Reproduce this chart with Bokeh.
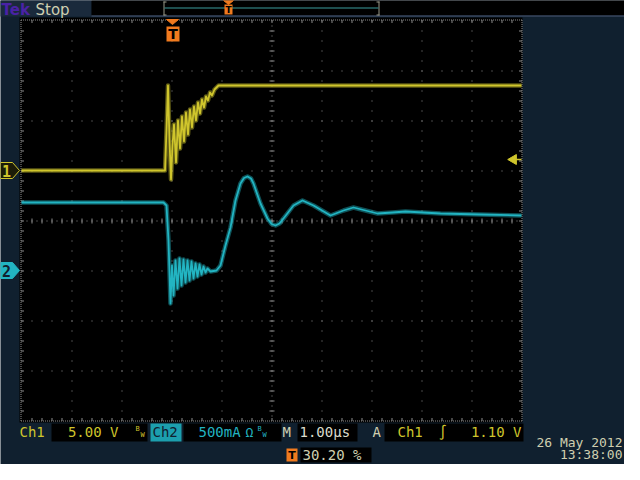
import numpy as np
from bokeh.plotting import figure
from bokeh.models import Range1d, Label
from bokeh.embed import file_html
from bokeh.resources import INLINE

time_per_div_us = 1.0
trigger_position_pct = 30.20
ch1_volts_per_div = 5.0
ch2_ma_per_div = 500.0
ch1_offset_div = 1.0
ch2_offset_div = -1.0
trigger_level_v = 1.10

ch1_t_us = [-3.02, -0.15, -0.12, -0.09, -0.06, -0.03, 0.00, 0.03, 0.07, 0.11,
            0.15, 0.19, 0.23, 0.27, 0.31, 0.35, 0.39, 0.43, 0.47, 0.51,
            0.55, 0.59, 0.63, 0.67, 0.71, 0.75, 0.79, 0.84, 0.92, 6.98]
ch1_v = [0.0, 0.0, 4.0, 8.5, 3.0, -0.9, 2.5, 4.6, 0.8, 5.0,
         2.2, 5.4, 2.9, 5.8, 3.6, 6.1, 4.3, 6.4, 5.0, 6.8,
         5.7, 7.1, 6.3, 7.4, 7.0, 7.8, 7.5, 8.1, 8.5, 8.5]

ch2_t_us = [-3.02, -0.18, -0.12, -0.08, -0.04, -0.01, 0.02, 0.06, 0.10, 0.14,
            0.18, 0.22, 0.26, 0.30, 0.34, 0.38, 0.42, 0.46, 0.50, 0.54,
            0.58, 0.62, 0.66, 0.70, 0.76, 0.88, 0.96, 1.06, 1.16, 1.26,
            1.36, 1.43, 1.50, 1.57, 1.62, 1.76, 1.90, 1.98, 2.06, 2.14,
            2.22, 2.42, 2.60, 2.82, 3.16, 3.42, 3.62, 3.86, 4.10, 4.40,
            4.66, 5.36, 6.16, 6.98]
ch2_ma = [680, 680, 650, 300, -330, 50, -250, 100, -180, 120,
          -150, 110, -120, 100, -100, 90, -80, 70, -60, 60,
          -40, 40, -20, 20, -10, 0, 50, 250, 430, 700,
          870, 925, 940, 920, 870, 670, 520, 465, 450, 470,
          520, 650, 700, 650, 550, 600, 630, 600, 570, 580,
          590, 570, 560, 550]

ch1_scale_text = "5.00 V"
ch2_scale_text = "500mA"
time_scale_text = "1.00\u00b5s"
trigger_text = "1.10 V"
trigger_pos_text = "30.20 %"
date_text = "26 May 2012"
time_text = "13:38:00"

# ---------------- styling / geometry (screen pixels) ----------------
NAVY = "#10202f"
NAVY2 = "#1a2a3c"
GRID = "#8c8c8c"
YEL = "#cfc52c"
CYA = "#22b4c2"
ORANGE = "#f07a1e"
PALE = "#cfcfb0"
MONO = "DejaVu Sans Mono"

W, H = 624, 464
OFF = 1                 # screen pixel of the figure's top-left corner
FX0, FY0 = 22, 21       # graticule origin (left, top)
DIV = 50.0
NX, NY = 10, 8

x_start = -trigger_position_pct / 100.0 * NX * time_per_div_us


def X(px):
    return x_start + (px - FX0) / DIV * time_per_div_us


def Y(py):
    return NY / 2 - (py - FY0) / DIV


p = figure(width=W, height=H, output_backend="svg", toolbar_location=None,
           x_range=Range1d(X(OFF), X(OFF + W)), y_range=Range1d(Y(OFF + H), Y(OFF)),
           x_axis_type=None, y_axis_type=None, min_border=0,
           background_fill_color=NAVY, border_fill_color=NAVY,
           outline_line_color=None)
p.title.visible = False

ylo, yhi = Y(OFF + H), Y(OFF)
p.extra_y_ranges = {
    "ch1": Range1d((ylo - ch1_offset_div) * ch1_volts_per_div,
                   (yhi - ch1_offset_div) * ch1_volts_per_div),
    "ch2": Range1d((ylo - ch2_offset_div) * ch2_ma_per_div,
                   (yhi - ch2_offset_div) * ch2_ma_per_div),
}


def box(l, t, r, b, color):
    p.quad(left=[X(l)], right=[X(r)], top=[Y(t)], bottom=[Y(b)],
           fill_color=color, line_color=None)


def seg(x0, y0, x1, y1, color, dash="solid", width=1):
    p.segment(x0=[X(a) for a in x0], y0=[Y(a) for a in y0],
              x1=[X(a) for a in x1], y1=[Y(a) for a in y1],
              line_color=color, line_dash=dash, line_width=width)


def poly(pts, fill, line=None):
    p.patch([X(a) for a, _ in pts], [Y(b) for _, b in pts],
            fill_color=fill, line_color=line if line else fill, line_width=1)


def txt(px, py, s, color, size=14, align="left", font=MONO, style="normal"):
    # py is the wanted baseline; the renderer places text ~0.36em lower
    p.add_layout(Label(x=X(px), y=Y(py - 0.36 * size), text=s, text_color=color,
                       text_font_size=f"{size}px", text_align=align,
                       text_baseline="alphabetic", text_font=font,
                       text_font_style=style))


# ---- screen area ----
box(20, 18, 523, 423, "black")

# ---- graticule ----
gx = [FX0 + DIV * k + 0.5 for k in range(NX + 1)]
gy = [FY0 + DIV * k + 0.5 for k in range(NY + 1)]
cx, cy = gx[NX // 2], gy[NY // 2]
inner_x = [v for i, v in enumerate(gx) if 0 < i < NX and i != NX // 2]
inner_y = [v for i, v in enumerate(gy) if 0 < i < NY and i != NY // 2]
top, bot = FY0 - 0.5, FY0 + NY * DIV + 0.5
left, right = FX0 - 0.5, FX0 + NX * DIV + 0.5
seg(inner_x, [FY0] * len(inner_x), inner_x, [FY0 + NY * DIV] * len(inner_x), GRID, "1 9")
seg([FX0] * len(inner_y), inner_y, [FX0 + NX * DIV] * len(inner_y), inner_y, GRID, "1 9")
seg([cx], [FY0], [cx], [FY0 + NY * DIV], GRID, "1 4")
seg([FX0], [cy], [FX0 + NX * DIV], [cy], GRID, "1 4")
# border
seg([left, right, left, left], [top, top, top, bot], [left, right, right, right],
    [bot, bot, top, bot], GRID, "1 1")
# minor ticks (every 1/5 division) on the border and the centre lines
mx = [FX0 + DIV / 5 * k + 0.5 for k in range(1, NX * 5)]
my = [FY0 + DIV / 5 * k + 0.5 for k in range(1, NY * 5)]
seg(mx, [top] * len(mx), mx, [top + 3] * len(mx), GRID)
seg(mx, [bot] * len(mx), mx, [bot - 3] * len(mx), GRID)
seg(mx, [cy - 2.5] * len(mx), mx, [cy + 2.5] * len(mx), GRID)
seg([left] * len(my), my, [left + 3] * len(my), my, GRID)
seg([right] * len(my), my, [right - 3] * len(my), my, GRID)
seg([cx - 2.5] * len(my), my, [cx + 2.5] * len(my), my, GRID)

# ---- traces ----
for w, a in ((4.5, 0.45), (1.8, 1.0)):
    p.line(ch1_t_us, ch1_v, y_range_name="ch1", line_color=YEL, line_width=w,
           line_alpha=a, line_join="round")
    p.line(ch2_t_us, ch2_ma, y_range_name="ch2", line_color=CYA, line_width=w,
           line_alpha=a, line_join="round")

# trigger level arrow (right edge)
p.scatter(x=[X(514)], y=[trigger_level_v], y_range_name="ch1", marker="triangle",
          size=10, angle=np.pi / 2, fill_color=YEL, line_color=YEL)
p.segment(x0=[X(516)], x1=[X(522)], y0=[trigger_level_v], y1=[trigger_level_v],
          y_range_name="ch1", line_color=YEL, line_width=1.5)

# trigger position marker at top of graticule
tx = FX0 + trigger_position_pct / 100.0 * NX * DIV
poly([(tx - 6, 20), (tx + 6, 20), (tx, 25)], ORANGE)
box(tx - 6, 27, tx + 7, 42, ORANGE)
txt(tx + 0.5, 40, "T", "black", 14, "center", "DejaVu Sans", "bold")

# ---- top bar ----
box(0, 0, 92, 17, NAVY2)
box(92, 0, 640, 16, "black")
box(92, 16, 640, 17, "#4d5a78")
txt(2, 16, "Tek", "#4a22a6", 15, "left", "DejaVu Sans", "bold")
txt(36, 16, "Stop", PALE, 15, "left", "DejaVu Sans")
box(164, 2, 165, 16, "#9a9a8a")
box(379, 2, 380, 16, "#9a9a8a")
box(164, 2, 167, 3, "#9a9a8a")
box(377, 2, 380, 3, "#9a9a8a")
box(164, 15, 167, 16, "#9a9a8a")
box(377, 15, 380, 16, "#9a9a8a")
box(165, 8, 379, 9, "#3b9c9c")
poly([(224, 1), (234, 1), (229, 5)], ORANGE)
box(225, 5, 233, 15, ORANGE)
txt(229, 14, "T", "black", 9, "center", "DejaVu Sans", "bold")

# ---- channel markers on the left ----
y1 = FY0 + (NY / 2 - ch1_offset_div) * DIV
y2 = FY0 + (NY / 2 - ch2_offset_div) * DIV
poly([(1, y1 - 8), (13, y1 - 8), (20, y1), (13, y1 + 8), (1, y1 + 8)], "#1c1c08", YEL)
txt(7, y1 + 6, "1", YEL, 15, "center", MONO, "bold")
poly([(1, y2 - 8), (13, y2 - 8), (20, y2), (13, y2 + 8), (1, y2 + 8)], CYA, CYA)
txt(7, y2 + 6, "2", NAVY, 15, "center", MONO, "bold")

# ---- status bar ----
box(52, 424, 148, 442, "black")
box(151, 424, 182, 442, "#1c9fae")
box(184, 424, 282, 442, "black")
box(298, 424, 358, 442, "black")
box(385, 424, 524, 442, "black")
txt(20, 438, "Ch1", YEL, 14)
txt(119, 438, ch1_scale_text, YEL, 14, "right")
txt(136, 432, "B", YEL, 7)
txt(141, 438, "W", YEL, 7)
txt(153, 438, "Ch2", NAVY, 14)
txt(199, 438, ch2_scale_text, CYA, 14)
txt(246, 438, "\u03a9", CYA, 13)
txt(258, 432, "B", CYA, 7)
txt(263, 438, "W", CYA, 7)
txt(283, 438, "M", PALE, 14)
txt(300, 438, time_scale_text, "#dcdccc", 14)
txt(373, 438, "A", PALE, 14)
txt(398, 438, "Ch1", YEL, 14)
txt(439, 438, "\u222b", YEL, 14)
txt(522, 438, trigger_text, YEL, 14, "right")

# ---- trigger position readout ----
box(287, 449, 298, 462, ORANGE)
txt(292.5, 460, "T", "black", 11, "center", "DejaVu Sans", "bold")
box(301, 448, 372, 463, "black")
txt(303, 461, trigger_pos_text, PALE, 14)

# ---- date / time ----
txt(623, 448, date_text, PALE, 13, "right")
txt(623, 460, time_text, PALE, 13, "right")

open("out.html", "w").write(file_html(p, INLINE))
